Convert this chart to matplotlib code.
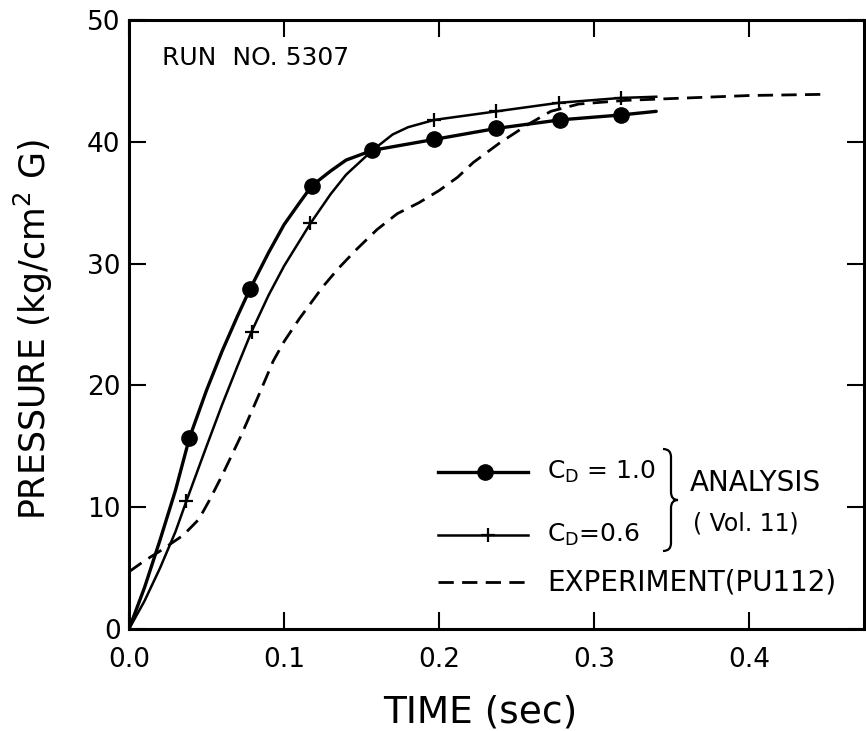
import matplotlib
matplotlib.use("Agg")
import matplotlib.pyplot as plt
from matplotlib.lines import Line2D
from matplotlib.path import Path
from matplotlib.patches import PathPatch
from matplotlib.transforms import Affine2D

W, H = 866, 731

# values (time in sec, pressure in kg/cm2 G)
t_cd10 = [0.0, 0.01, 0.02, 0.03, 0.039, 0.05, 0.06, 0.07, 0.078, 0.09, 0.10,
          0.11, 0.118, 0.13, 0.14, 0.157, 0.197, 0.237, 0.278, 0.317, 0.34]
p_cd10 = [0.0, 3.4, 7.3, 11.4, 15.7, 19.6, 22.8, 25.7, 27.9, 30.9, 33.2,
          35.0, 36.4, 37.6, 38.5, 39.3, 40.2, 41.1, 41.8, 42.2, 42.5]
t_cd10_mk = [0.039, 0.078, 0.118, 0.157, 0.197, 0.237, 0.278, 0.317]
p_cd10_mk = [15.7, 27.9, 36.4, 39.3, 40.2, 41.1, 41.8, 42.2]

t_cd06 = [0.0, 0.01, 0.02, 0.03, 0.037, 0.05, 0.06, 0.07, 0.079, 0.09, 0.10,
          0.117, 0.13, 0.14, 0.157, 0.17, 0.18, 0.197, 0.237, 0.277, 0.317, 0.34]
p_cd06 = [0.0, 2.3, 5.0, 8.0, 10.5, 15.0, 18.4, 21.6, 24.4, 27.4, 29.8,
          33.3, 35.7, 37.3, 39.3, 40.6, 41.2, 41.8, 42.5, 43.2, 43.6, 43.7]
t_cd06_mk = [0.037, 0.079, 0.117, 0.197, 0.237, 0.277, 0.317]
p_cd06_mk = [10.5, 24.4, 33.3, 41.8, 42.5, 43.2, 43.6]

t_exp = [0.0, 0.01, 0.02, 0.035, 0.045, 0.052, 0.06, 0.072, 0.083, 0.093, 0.10,
         0.11, 0.125, 0.135, 0.147, 0.16, 0.173, 0.187, 0.20, 0.212, 0.222,
         0.239, 0.257, 0.272, 0.29, 0.32, 0.36, 0.40, 0.45]
p_exp = [4.7, 5.6, 6.4, 7.7, 9.0, 10.6, 12.6, 15.8, 19.0, 22.0, 23.6,
         25.5, 28.1, 29.6, 31.2, 32.8, 34.1, 35.0, 36.0, 37.1, 38.3,
         39.9, 41.4, 42.5, 43.1, 43.4, 43.6, 43.8, 43.9]

x_ticks = [0.0, 0.1, 0.2, 0.3, 0.4]
x_tick_labels = ["0.0", "0.1", "0.2", "0.3", "0.4"]
y_ticks = [0, 10, 20, 30, 40, 50]
y_tick_labels = ["0", "10", "20", "30", "40", "50"]

plt.rcParams["font.family"] = ["DejaVu Sans"]

fig = plt.figure(figsize=(W / 100, H / 100), dpi=100)
fig.patch.set_facecolor("white")
ax = fig.add_axes([129 / W, 1 - 629 / H, (864 - 129) / W, (629 - 20) / H])

# pixel helper for placing annotations like the original
px = Affine2D().scale(1 / W, -1 / H).translate(0, 1) + fig.transFigure

ax.plot(t_cd10, p_cd10, color="black", lw=2.4, solid_capstyle="round")
ax.plot(t_cd10_mk, p_cd10_mk, "o", color="black", ms=11)
ax.plot(t_cd06, p_cd06, color="black", lw=1.8)
ax.plot(t_cd06_mk, p_cd06_mk, "+", color="black", ms=10, mew=1.6)
ax.plot(t_exp, p_exp, color="black", lw=2.0, dashes=(5.5, 3))

ax.set_xlim(0, 0.474)
ax.set_ylim(0, 50)
ax.set_xticks(x_ticks)
ax.set_xticklabels(x_tick_labels)
ax.set_yticks(y_ticks)
ax.set_yticklabels(y_tick_labels)
ax.tick_params(direction="in", length=12, width=1.5, labelsize=19,
               top=True, right=True)
ax.tick_params(axis="x", pad=13)
ax.tick_params(axis="y", pad=6)
for s in ax.spines.values():
    s.set_linewidth(2.2)

fig.text(33 / W, 1 - 330 / H, "PRESSURE (kg/cm$^2$ G)", rotation=90,
         ha="center", va="center", fontsize=25)
fig.text(480 / W, 1 - 713 / H, "TIME (sec)", ha="center", va="center",
         fontsize=27)

fig.text(162 / W, 1 - 58 / H, "RUN  NO. 5307", ha="left", va="center",
         fontsize=18)

# legend, drawn by hand like the original
fig.add_artist(Line2D([438, 528], [472, 472], color="black", lw=2.4, transform=px))
fig.add_artist(Line2D([485], [472], marker="o", color="black", ms=11, transform=px))
fig.add_artist(Line2D([438, 528], [535, 535], color="black", lw=1.8, transform=px))
fig.add_artist(Line2D([488], [535], marker="+", color="black", ms=10, mew=1.6,
                      transform=px))
fig.add_artist(Line2D([438, 528], [582, 582], color="black", lw=2.0,
                      dashes=(5.5, 3), transform=px))

fig.text(547 / W, 1 - 472 / H, r"C$_\mathrm{D}$ = 1.0", ha="left", va="center",
         fontsize=18)
fig.text(547 / W, 1 - 535 / H, r"C$_\mathrm{D}$=0.6", ha="left", va="center",
         fontsize=18)
fig.text(547 / W, 1 - 582 / H, "EXPERIMENT(PU112)", ha="left", va="center",
         fontsize=20)
fig.text(690 / W, 1 - 483 / H, "ANALYSIS", ha="left", va="center", fontsize=20)
fig.text(693 / W, 1 - 523 / H, "( Vol. 11)", ha="left", va="center", fontsize=17)

# curly brace joining the two analysis entries
verts = [(663, 449), (671, 449), (671, 457),
         (671, 492),
         (671, 500), (678, 500),
         (671, 500), (671, 508),
         (671, 543),
         (671, 551), (663, 551)]
codes = [Path.MOVETO, Path.CURVE3, Path.CURVE3,
         Path.LINETO,
         Path.CURVE3, Path.CURVE3,
         Path.CURVE3, Path.CURVE3,
         Path.LINETO,
         Path.CURVE3, Path.CURVE3]
fig.add_artist(PathPatch(Path(verts, codes), fill=False, lw=1.6,
                         edgecolor="black", transform=px))

fig.savefig("out.png", dpi=100, facecolor="white")
